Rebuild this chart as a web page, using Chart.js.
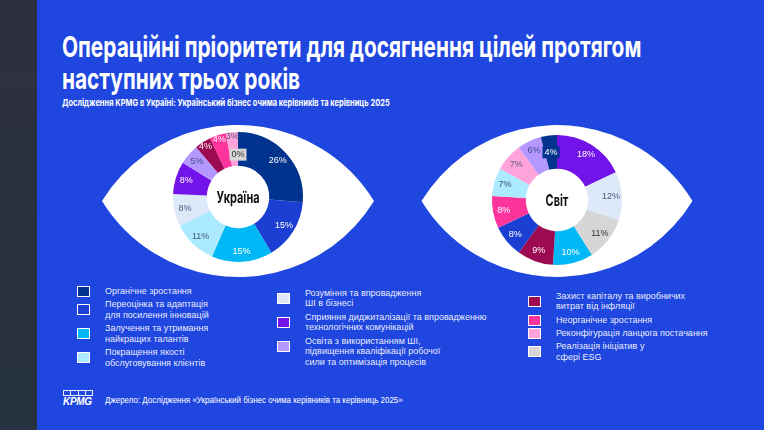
<!DOCTYPE html>
<html lang="uk">
<head>
<meta charset="utf-8">
<script src="https://cdn.jsdelivr.net/npm/chart.js@4.4.1/dist/chart.umd.min.js"></script>
<style>
  html, body { margin: 0; padding: 0; }
  body {
    width: 764px; height: 430px; position: relative; overflow: hidden;
    background: #1f47e0; color: #fff;
    font-family: "Liberation Sans", Arial, sans-serif;
  }
  .strip { position: absolute; left: 0; top: 0; width: 37px; height: 430px; background: linear-gradient(#2e3040, #26323f); }
  .fit { position: absolute; left: 62px; white-space: nowrap; transform-origin: 0 0; }
  .title { font-family: Inter, sans-serif; font-weight: 700; font-size: 29px; line-height: 32px; }
  .subtitle { font-family: Inter, sans-serif; font-weight: 700; font-size: 9.5px; line-height: 12px; }
  canvas { position: absolute; }
  .legend-col { position: absolute; }
  .item { position: relative; padding-left: 28px; margin-bottom: 2.5px; font-size: 9px; line-height: 10.8px; white-space: pre-line; color: rgba(255,255,255,0.92); }
  .box { position: absolute; left: 0; width: 11px; height: 9px; border: 1.5px solid #fff; }
  .source { font-size: 8.5px; line-height: 10px; color: #fff; }
  .logo { position: absolute; left: 63px; top: 390px; width: 30px; }
  .logo .cells { display: flex; gap: 0; height: 6px; }
  .logo .cells span { flex: 1; border: 1px solid rgba(255,255,255,0.9); border-right: none; }
  .logo .cells span:last-child { border-right: 1px solid rgba(255,255,255,0.9); }
  .logo .word { font: italic 700 10px "Liberation Sans", Arial, sans-serif; line-height: 10px; margin-top: 1px; letter-spacing: -0.3px; }
</style>
</head>
<body>
<div class="strip"></div>

<div class="fit title" data-w="579" style="top:31px">Операційні пріоритети для досягнення цілей протягом</div>
<div class="fit title" data-w="238" style="top:63px">наступних трьох років</div>
<div class="fit subtitle" data-w="328" style="top:97px">Дослідження KPMG в Україні: Український бізнес очима керівників та керівниць 2025</div>

<canvas id="ukraine" width="300" height="170" style="left:88px; top:112px"></canvas>
<canvas id="world" width="300" height="170" style="left:407px; top:115px"></canvas>

<div id="legend"></div>

<div class="logo"><div class="cells"><span></span><span></span><span></span><span></span></div><div class="word">KPMG</div></div>
<div class="fit source" data-w="298" style="left:105px; top:395px">Джерело: Дослідження «Український бізнес очима керівників та керівниць 2025»</div>

<script>
const categories = [
  'Органічне зростання',
  'Переоцінка та адаптація\nдля посилення інновацій',
  'Залучення та утримання\nнайкращих талантів',
  'Покращення якості\nобслуговування клієнтів',
  'Розуміння та впровадження\nШІ в бізнесі',
  'Сприяння диджиталізації та впровадженню\nтехнологічних комунікацій',
  'Освіта з використанням ШІ,\nпідвищення кваліфікації робочої\nсили та оптимізація процесів',
  'Захист капіталу та виробничих\nвитрат від інфляції',
  'Неорганічне зростання',
  'Реконфігурація ланцюга постачання',
  'Реалізація ініціатив у\nсфері ESG'
];
const ukraineValues = [26, 15, 15, 11, 8, 8, 5, 4, 4, 3, 0];
const worldValues = [4, 8, 10, 7, 12, 18, 6, 9, 8, 7, 11];
const regions = ['Україна', 'Світ'];

const sliceColors = ['#00338d', '#1c3fd3', '#00b8f5', '#aceaff', '#dde8f8', '#7213ea', '#b497ff', '#9c0a52', '#fd349c', '#ffa3da', '#d6d6d6'];
const labelInk = ['#fff', '#fff', '#fff', '#41557f', '#4a5a80', '#fff', '#4a4f8a', '#fff', '#fff', '#5a5f80', '#333'];
const legendColumns = [[0, 1, 2, 3], [4, 5, 6], [7, 8, 9, 10]];
const legendPlace = [{left: 77, top: 285.5}, {left: 277, top: 287.5}, {left: 528, top: 290.5}];

// slices are drawn largest first, ties keep the category order
const sortedOrder = (values) => values.map((v, i) => i).sort((a, b) => values[b] - values[a] || a - b);

const eyePlugin = {
  id: 'eye',
  beforeDraw(chart, args, opts) {
    const {ctx, chartArea} = chart;
    const cx = (chartArea.left + chartArea.right) / 2;
    const cy = (chartArea.top + chartArea.bottom) / 2 + opts.dy;
    const a = opts.halfWidth, h = opts.halfHeight;
    const R = (a * a + h * h) / (2 * h);
    const t = Math.asin(a / R);
    ctx.save();
    ctx.beginPath();
    ctx.arc(cx, cy + R - h, R, -Math.PI / 2 - t, -Math.PI / 2 + t);
    ctx.arc(cx, cy - R + h, R, Math.PI / 2 - t, Math.PI / 2 + t);
    ctx.closePath();
    ctx.fillStyle = '#fff';
    ctx.fill();
    ctx.restore();
  }
};

const sliceLabels = {
  id: 'sliceLabels',
  afterDatasetsDraw(chart, args, opts) {
    const {ctx} = chart;
    const ds = chart.data.datasets[0];
    const meta = chart.getDatasetMeta(0);
    ctx.save();
    ctx.font = '9px "Liberation Sans", Arial, sans-serif';
    ctx.textAlign = 'center';
    ctx.textBaseline = 'middle';
    meta.data.forEach((arc, i) => {
      const v = ds.data[i];
      const p = arc.getProps(['x', 'y', 'startAngle', 'endAngle', 'innerRadius', 'outerRadius'], true);
      const mid = (p.startAngle + p.endAngle) / 2;
      const f = v === 0 ? 0.33 : v < 5 ? (opts.outerSmall ? 0.86 : 0.5) : 0.68;
      const r = p.innerRadius + f * (p.outerRadius - p.innerRadius);
      const x = p.x + Math.cos(mid) * r;
      const y = p.y + Math.sin(mid) * r;
      const text = v + '%';
      if (v === 0 || (v < 5 && !opts.outerSmall)) {
        const w = ctx.measureText(text).width + 4;
        ctx.fillStyle = ds.backgroundColor[i];
        ctx.fillRect(x - w / 2, y - 6, w, 12);
      }
      ctx.fillStyle = ds.ink[i];
      ctx.fillText(text, x, y);
    });
    const c = meta.data[0];
    ctx.translate(c.x, c.y + 1);
    ctx.scale(0.68, 1);
    ctx.font = '700 16px Inter, sans-serif';
    ctx.fillStyle = '#111';
    ctx.fillText(opts.center, 0, 0);
    ctx.restore();
  }
};

const createDonut = (canvasId, values, center, look) => {
  const order = sortedOrder(values);
  return new Chart(document.getElementById(canvasId), {
    type: 'doughnut',
    data: {
      labels: order.map(i => categories[i]),
      datasets: [{
        data: order.map(i => values[i]),
        backgroundColor: order.map(i => sliceColors[i]),
        ink: order.map(i => labelInk[i]),
        borderWidth: 0
      }]
    },
    options: {
      responsive: false,
      animation: false,
      cutout: '48%',
      layout: {padding: {top: 20, bottom: 20}},
      plugins: {
        legend: {display: false},
        tooltip: {enabled: false},
        eye: {dy: look.eyeDy, halfWidth: look.halfWidth, halfHeight: 76},
        sliceLabels: {center: center, outerSmall: look.outerSmall}
      }
    },
    plugins: [eyePlugin, sliceLabels]
  });
};

const buildLegend = () => {
  const legend = document.getElementById('legend');
  legendColumns.forEach((col, c) => {
    const colEl = document.createElement('div');
    colEl.className = 'legend-col';
    colEl.style.left = legendPlace[c].left + 'px';
    colEl.style.top = legendPlace[c].top + 'px';
    col.forEach(i => {
      const item = document.createElement('div');
      item.className = 'item';
      const box = document.createElement('span');
      box.className = 'box';
      box.style.background = sliceColors[i];
      box.style.top = (categories[i].includes('\n') ? 5 : 0.5) + 'px';
      const label = document.createElement('span');
      label.textContent = categories[i];
      item.append(box, label);
      colEl.appendChild(item);
    });
    legend.appendChild(colEl);
  });
};

const fitTexts = () => {
  document.querySelectorAll('.fit').forEach(el => {
    const target = Number(el.dataset.w);
    el.style.transform = `scaleX(${target / el.offsetWidth})`;
  });
};

document.fonts.ready.then(() => {
  fitTexts();
  buildLegend();
  createDonut('ukraine', ukraineValues, regions[0], {eyeDy: 4, halfWidth: 136, outerSmall: true});
  createDonut('world', worldValues, regions[1], {eyeDy: 1, halfWidth: 135.5, outerSmall: false});
});
</script>
</body>
</html>
